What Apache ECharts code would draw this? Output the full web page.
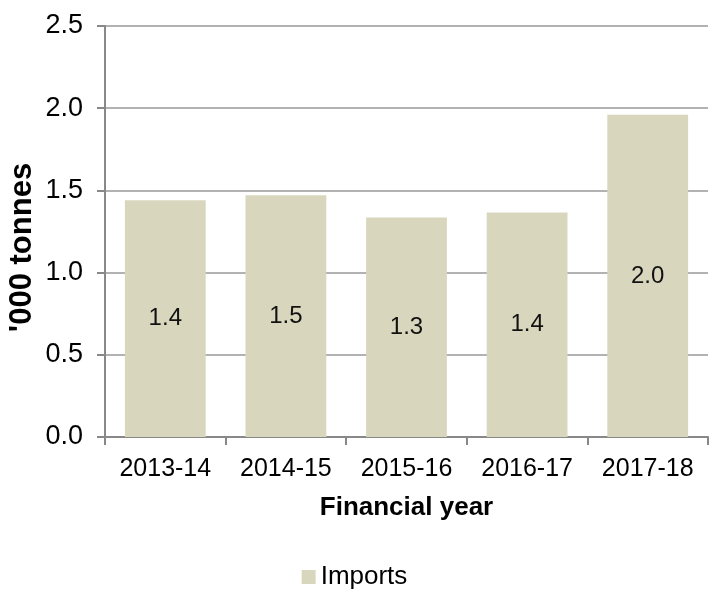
<!DOCTYPE html>
<html>
<head>
<meta charset="utf-8">
<script src="https://cdn.jsdelivr.net/npm/echarts@6/dist/echarts.min.js"></script>
<style>html,body{margin:0;padding:0;background:#fff}#c{width:709px;height:590px}</style>
</head>
<body>
<div id="c"></div>
<script>
const categories = ['2013-14', '2014-15', '2015-16', '2016-17', '2017-18'];
const imports = [1.44, 1.47, 1.335, 1.365, 1.96];
const seriesName = 'Imports';
const yMin = 0, yMax = 2.5, yStep = 0.5;

const FONT = '"Liberation Sans", Arial, sans-serif';
const chart = echarts.init(document.getElementById('c'), null, {renderer: 'canvas'});
chart.setOption({
  animation: false,
  backgroundColor: '#fff',
  textStyle: {fontFamily: FONT},
  grid: {left: 105, right: 1, top: 26, bottom: 153, containLabel: false, outerBoundsMode: 'none'},
  legend: {
    data: [seriesName], top: 564, left: 'center', padding: 0, itemWidth: 14, itemHeight: 14, itemGap: 6,
    icon: 'rect',
    textStyle: {fontFamily: FONT, fontSize: 26, color: '#000', padding: [0, 0, 0, 0]}
  },
  xAxis: {
    type: 'category', data: categories,
    name: 'Financial year', nameLocation: 'middle', nameGap: 58,
    nameTextStyle: {fontFamily: FONT, fontSize: 26, fontWeight: 'bold', color: '#000'},
    axisLine: {lineStyle: {color: '#888', width: 2}},
    axisTick: {show: true, length: 8, lineStyle: {color: '#888', width: 2}},
    axisLabel: {fontFamily: FONT, fontSize: 25, color: '#000', margin: 20}
  },
  yAxis: {
    type: 'value', min: yMin, max: yMax, interval: yStep,
    name: "'000 tonnes", nameLocation: 'middle', nameGap: 67, nameRotate: 90, nameMoveOverlap: false,
    nameTextStyle: {fontFamily: FONT, fontSize: 31, fontWeight: 'bold', color: '#000', padding: [0, 0, 0, -32]},
    axisLine: {show: true, lineStyle: {color: '#888', width: 2}},
    axisTick: {show: true, length: 8, lineStyle: {color: '#888', width: 2}},
    axisLabel: {fontFamily: FONT, fontSize: 27, color: '#000', margin: 22, formatter: v => v.toFixed(1)},
    splitLine: {show: true, lineStyle: {color: '#999', width: 1.5}}
  },
  series: [{
    name: seriesName, type: 'bar', data: imports, barCategoryGap: '33%',
    itemStyle: {color: '#D8D7BD'},
    label: {show: true, position: 'inside', fontFamily: FONT, fontSize: 24, color: '#111',
      formatter: p => p.value.toFixed(1)}
  }]
});
</script>
</body>
</html>
